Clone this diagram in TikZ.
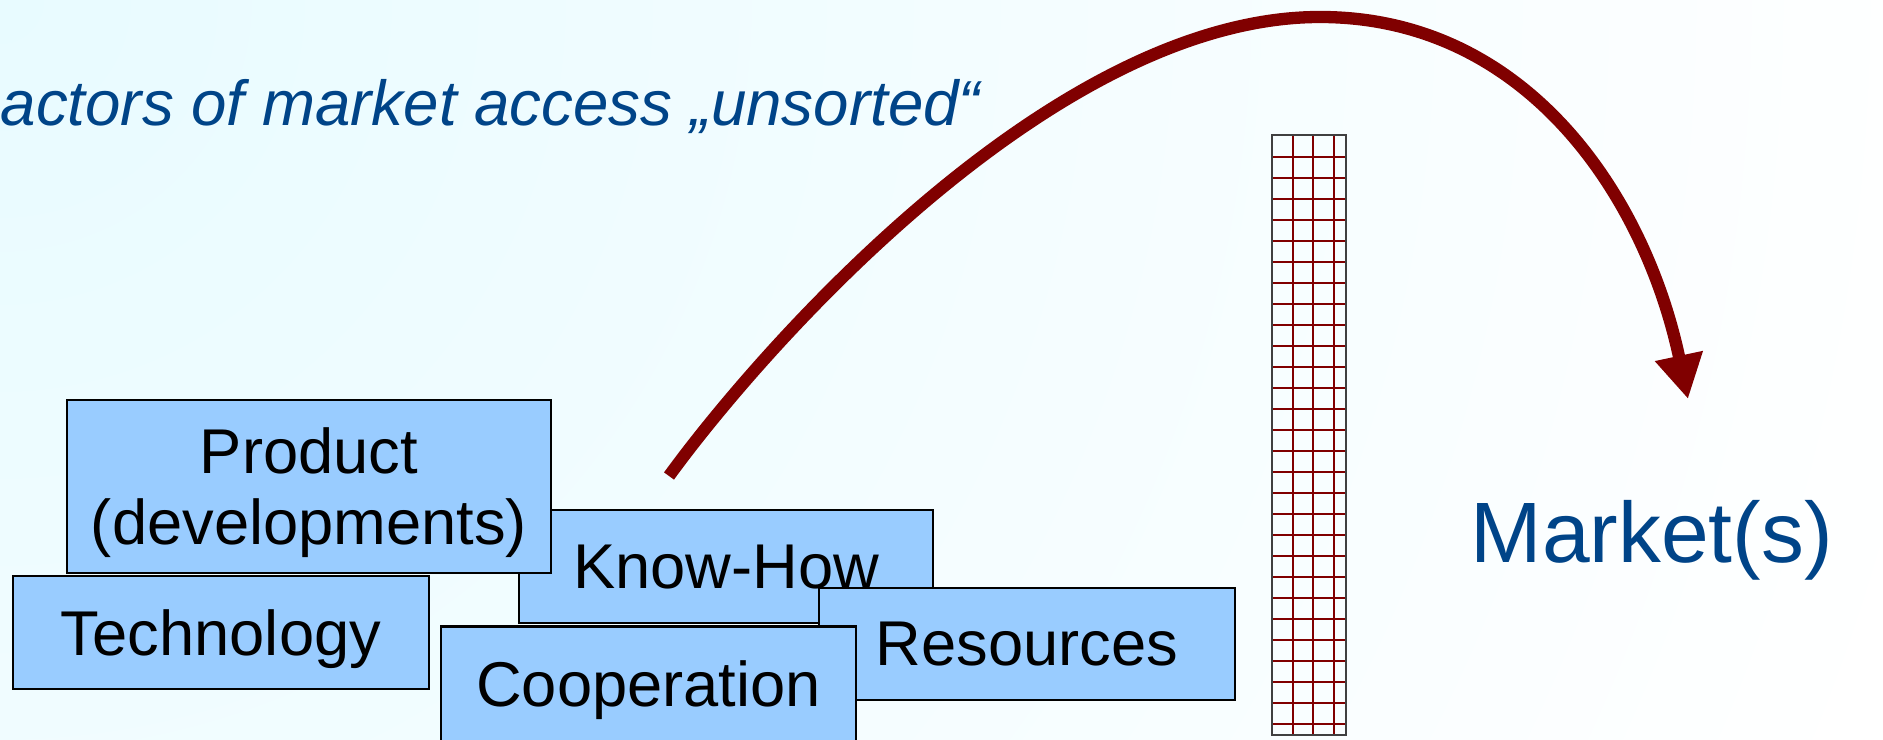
\documentclass[tikz,border=0pt]{standalone}
\usepackage{fontspec}
\setmainfont{Liberation Sans}
\usetikzlibrary{arrows.meta}
\definecolor{fond}{RGB}{232,251,255}
\definecolor{bleucase}{RGB}{153,204,255}
\definecolor{bleutitre}{RGB}{0,68,136}
\definecolor{rougefleche}{RGB}{128,0,0}
\tikzset{
    facteur/.style={draw=black, line width=0.6pt, fill=bleucase, align=center, inner sep=0pt, text depth=-0.08cm, font=\fontsize{18}{20.2}\selectfont},
    fleche/.style={line width=3.5pt, rougefleche, -{Triangle[length=4.4mm, width=4.6mm]}},
    grille/.style={line width=0.5pt, rougefleche},
    mur/.style={line width=0.6pt, draw=black!75}
}
\begin{document}
\begin{tikzpicture}
    \useasboundingbox (0,0) rectangle (18.83,7.39);

    % Fond degrade
    \begin{scope}
        \clip (0,0) rectangle (18.83,7.39);
        \shade[inner color=fond, outer color=white] (0,7.39) circle (20);
    \end{scope}

    % Titre
    \node[anchor=base west, inner sep=0pt, text=bleutitre, font=\fontsize{18.1}{20}\selectfont\itshape] (titre) at (0,6.13) {actors of market access „unsorted“};

    % Facteurs
    \node[facteur, minimum width=4.14cm, minimum height=1.13cm] (knowhow) at (7.26,1.725) {Know-How};
    \node[facteur, minimum width=4.16cm, minimum height=1.12cm] (resources) at (10.27,0.95) {Resources};
    \node[facteur, minimum width=4.15cm, minimum height=1.15cm] (cooperation) at (6.485,0.55) {Cooperation};
    \node[facteur, minimum width=4.16cm, minimum height=1.13cm] (technology) at (2.21,1.065) {Technology};
    \node[facteur, minimum width=4.84cm, minimum height=1.73cm] (product) at (3.09,2.525) {Product\\(developments)};

    % Mur
    \foreach \k in {0,...,27}
        \draw[grille] (12.72,{5.823-\k*0.21}) -- (13.46,{5.823-\k*0.21});
    \foreach \x in {12.93,13.13,13.34}
        \draw[grille] (\x,0.037) -- (\x,6.043);
    \draw[mur] (12.72,0.037) rectangle (13.46,6.043);

    % Marche
    \node[anchor=base west, inner sep=0pt, text=bleutitre, font=\fontsize{24.4}{28}\selectfont] (marche) at (14.70,1.77) {Market(s)};

    % Fleche par-dessus le mur
    \coordinate (depart) at (6.69,2.63);
    \coordinate (sommet) at (13.2,7.22);
    \coordinate (arrivee) at (16.88,3.40);
    \draw[fleche] (depart) .. controls +(54:1.5) and +(-2.7,0) .. (sommet) to[out=0, in=102] (arrivee);
\end{tikzpicture}
\end{document}
